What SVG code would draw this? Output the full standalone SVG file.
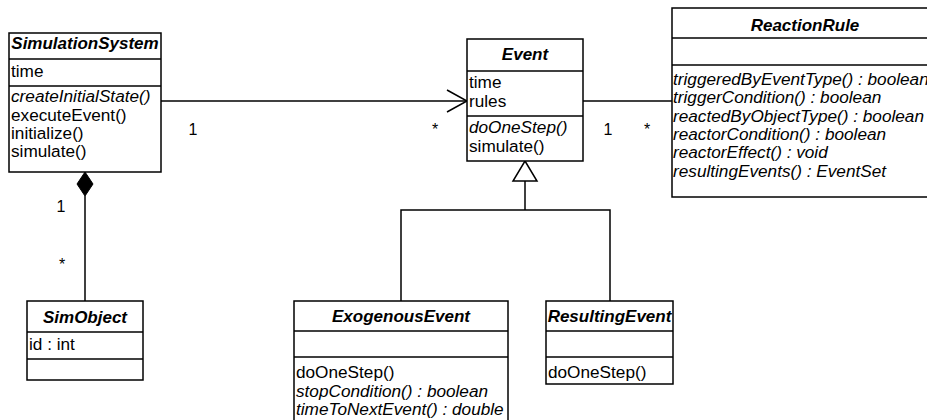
<svg xmlns="http://www.w3.org/2000/svg" width="927" height="420" viewBox="0 0 927 420">
<style>
.box{fill:#fff;stroke:#000;stroke-width:1.5}
.ln{stroke:#000;stroke-width:1.5;fill:none}
text{font-family:"Liberation Sans",Arial,sans-serif;font-size:17.2px;fill:#000}
.h{font-weight:bold;font-style:italic;text-anchor:middle;font-size:17px}
.i{font-style:italic}
.m{font-size:16px;text-anchor:middle}
</style>
<rect width="927" height="420" fill="#fff"/>
<g id="connectors">
<line class="ln" x1="161" y1="101" x2="467" y2="101"/>
<polyline class="ln" points="447,90 467,101 447,112"/>
<line class="ln" x1="583" y1="101" x2="672" y2="101"/>
<polygon points="85,172 93,184 85,196 77,184" fill="#000" stroke="#000" stroke-width="1"/>
<line class="ln" x1="85" y1="196" x2="85" y2="301"/>
<polygon points="525,161 537,181 513,181" fill="#fff" stroke="#000" stroke-width="1.5"/>
<polyline class="ln" points="525,181 525,210"/>
<polyline class="ln" points="401,301 401,210 610,210 610,301"/>
<text class="m" x="193" y="135">1</text>
<text class="m" x="435" y="135">*</text>
<text class="m" x="608" y="135">1</text>
<text class="m" x="647" y="135">*</text>
<text class="m" x="61" y="212">1</text>
<text class="m" x="62" y="270">*</text>
</g>
<g id="SimulationSystem">
<rect class="box" x="9" y="33" width="152" height="139"/>
<line class="ln" x1="9" y1="59" x2="161" y2="59"/>
<line class="ln" x1="9" y1="86" x2="161" y2="86"/>
<text class="h" x="85" y="49">SimulationSystem</text>
<text x="11" y="77">time</text>
<text class="i" x="11" y="102">createInitialState()</text>
<text x="11" y="120.5">executeEvent()</text>
<text x="11" y="139">initialize()</text>
<text x="11" y="157">simulate()</text>
</g>
<g id="Event">
<rect class="box" x="467" y="39" width="116" height="122"/>
<line class="ln" x1="467" y1="71" x2="583" y2="71"/>
<line class="ln" x1="467" y1="116" x2="583" y2="116"/>
<text class="h" x="525" y="60">Event</text>
<text x="469" y="88">time</text>
<text x="469" y="107">rules</text>
<text class="i" x="469" y="132.5">doOneStep()</text>
<text x="469" y="151.5">simulate()</text>
</g>
<g id="ReactionRule">
<rect class="box" x="672" y="8" width="266" height="189"/>
<line class="ln" x1="672" y1="38" x2="938" y2="38"/>
<line class="ln" x1="672" y1="65" x2="938" y2="65"/>
<text class="h" x="805" y="31">ReactionRule</text>
<text class="i" x="673" y="85">triggeredByEventType() : boolean</text>
<text class="i" x="673" y="103.3">triggerCondition() : boolean</text>
<text class="i" x="673" y="121.6">reactedByObjectType() : boolean</text>
<text class="i" x="673" y="140">reactorCondition() : boolean</text>
<text class="i" x="673" y="158.3">reactorEffect() : void</text>
<text class="i" x="673" y="176.6">resultingEvents() : EventSet</text>
</g>
<g id="SimObject">
<rect class="box" x="27" y="301" width="116" height="79"/>
<line class="ln" x1="27" y1="332" x2="143" y2="332"/>
<line class="ln" x1="27" y1="359" x2="143" y2="359"/>
<text class="h" x="85" y="323">SimObject</text>
<text x="29" y="350">id : int</text>
</g>
<g id="ExogenousEvent">
<rect class="box" x="294" y="301" width="214" height="125"/>
<line class="ln" x1="294" y1="331" x2="508" y2="331"/>
<line class="ln" x1="294" y1="357" x2="508" y2="357"/>
<text class="h" x="401" y="322">ExogenousEvent</text>
<text x="296" y="378">doOneStep()</text>
<text class="i" x="296" y="396.5">stopCondition() : boolean</text>
<text class="i" x="296" y="415">timeToNextEvent() : double</text>
</g>
<g id="ResultingEvent">
<rect class="box" x="546" y="301" width="127" height="83"/>
<line class="ln" x1="546" y1="331" x2="673" y2="331"/>
<line class="ln" x1="546" y1="357" x2="673" y2="357"/>
<text class="h" x="609.5" y="322">ResultingEvent</text>
<text x="548" y="378">doOneStep()</text>
</g>
</svg>
